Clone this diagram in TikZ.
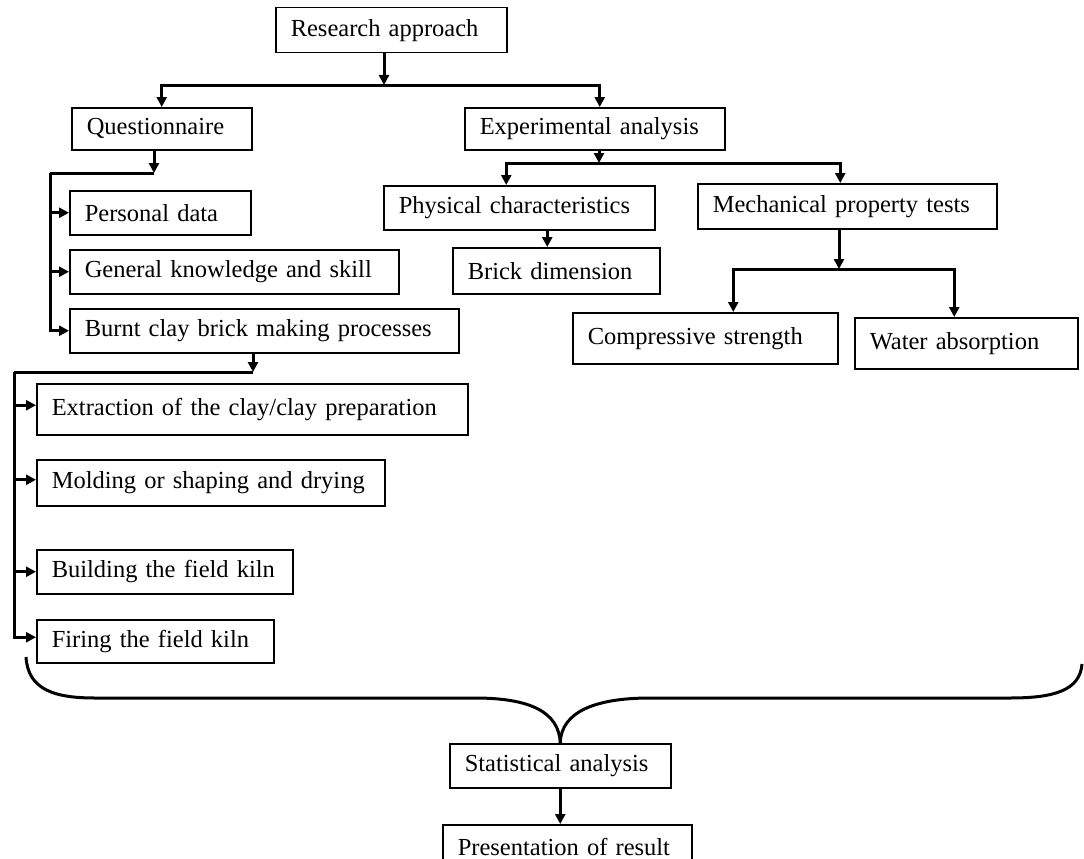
\documentclass[tikz,border=0pt]{standalone}
\usepackage{fontspec}
\setmainfont{Liberation Serif}
\usetikzlibrary{arrows.meta, positioning}

\begin{document}
\begin{tikzpicture}[
  x=1pt, y=-1pt,
  >={Triangle[length=10pt, width=10pt]},
  box/.style={draw, line width=1.5pt, anchor=north west, align=left,
    inner xsep=15pt, inner ysep=0pt, font=\fontsize{24.5}{28}\selectfont},
  link/.style={line width=3pt}
]
  \useasboundingbox (0,0) rectangle (1084,859);

  % top
  \node[box, text width=201pt, minimum height=45pt] (ra) at (275,7) {Research approach};
  \node[box, text width=150pt, minimum height=42pt] (qn) at (71,107) {Questionnaire};
  \node[box, text width=230pt, minimum height=42pt] (ea) at (464,107) {Experimental analysis};

  % questionnaire branch
  \node[box, text width=151pt, minimum height=44pt] (pd) at (69,190) {Personal data};
  \node[box, text width=299pt, minimum height=44pt] (gk) at (69,249) {General knowledge and skill};
  \node[box, text width=359pt, minimum height=44pt] (bc) at (69,308) {Burnt clay brick making processes};
  \node[box, text width=401pt, minimum height=51pt] (ex) at (36,383) {Extraction of the clay/clay preparation};
  \node[box, text width=318pt, minimum height=46pt] (mo) at (36,459) {Molding or shaping and drying};
  \node[box, text width=226pt, minimum height=44pt] (bu) at (36,549) {Building the field kiln};
  \node[box, text width=207pt, minimum height=43pt] (fi) at (36,619) {Firing the field kiln};

  % experimental branch
  \node[box, text width=241pt, minimum height=44pt] (pc) at (383,185) {Physical characteristics};
  \node[box, text width=177pt, minimum height=46pt] (bd) at (452,247) {Brick dimension};
  \node[box, text width=269pt, minimum height=45pt] (mp) at (697,183) {Mechanical property tests};
  \node[box, text width=235pt, minimum height=51pt] (cs) at (572,312) {Compressive strength};
  \node[box, text width=193pt, minimum height=51pt] (wa) at (854,317) {Water absorption};

  % bottom
  \node[box, text width=191pt, minimum height=44pt] (sa) at (449,743) {Statistical analysis};
  \node[box, text width=219pt, minimum height=44pt] (pr) at (442,824) {Presentation of result};

  % junctions
  \coordinate (j1) at (384,85);
  \coordinate (j2) at (154,173);
  \coordinate (r1) at (50,173);
  \coordinate (j3) at (253,372);
  \coordinate (r2) at (14,372);
  \coordinate (j4) at (599,163);
  \coordinate (j5) at (839,269);
  \coordinate (bl) at (26,657);
  \coordinate (br) at (1082,664);

  \draw[link,->] (j1 |- ra.south) -- (j1);
  \draw[link,->] (j1) -| (qn.north);
  \draw[link,->] (j1) -| ([xshift=5pt]ea.north);

  \draw[link,->] (j2 |- qn.south) -- (j2);
  \draw[link] (j2) -- (r1);
  \draw[link,->] (r1) |- (pd.west);
  \draw[link,->] (r1) |- (gk.west);
  \draw[link,->] (r1) |- (bc.west);

  \draw[link,->] (j3 |- bc.south) -- (j3);
  \draw[link] (j3) -- (r2);
  \draw[link,->] (r2) |- ([yshift=4pt]ex.west);
  \draw[link,->] (r2) |- ([yshift=3pt]mo.west);
  \draw[link,->] (r2) |- (bu.west);
  \draw[link,->] (r2) |- ([yshift=4pt]fi.west);

  \draw[link,->] (j4 |- ea.south) -- (j4);
  \draw[link,->] (j4) -| ([xshift=-13pt]pc.north);
  \draw[link,->] (j4) -| ([xshift=-7pt]mp.north);
  \draw[link,->] ([xshift=-9pt]bd.north |- pc.south) -- ([xshift=-9pt]bd.north);

  \draw[link,->] (j5 |- mp.south) -- (j5);
  \draw[link,->] (j5) -| ([xshift=28pt]cs.north);
  \draw[link,->] (j5) -| ([xshift=-12pt]wa.north);

  % brace
  \draw[link] (bl) .. controls (28,690) and (55,698) .. (95,698) -- (475,698)
    .. controls (530,698) and (559,712) .. (sa.north);
  \draw[link] (sa.north) .. controls (561,712) and (595,698) .. (650,698) -- (1010,698)
    .. controls (1055,698) and (1080,690) .. (br);

  \draw[link,->] (sa.south) -- (sa.south |- pr.north);
\end{tikzpicture}
\end{document}
